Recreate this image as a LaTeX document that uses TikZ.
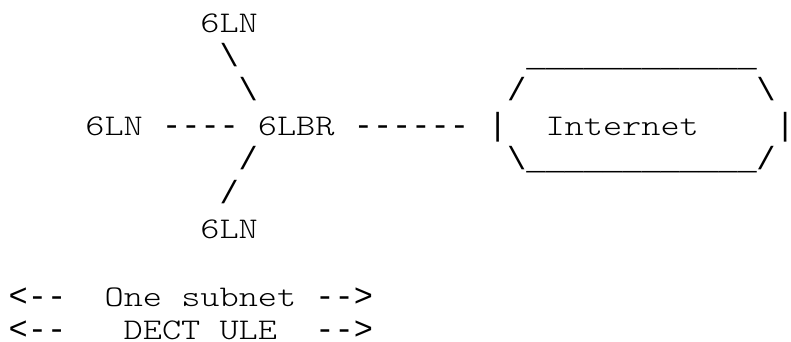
\documentclass[tikz,border=0pt]{standalone}
\usepackage{fontspec}
\setmonofont{Liberation Mono}
\newfontfamily\lmfont{Latin Modern Mono Light}[FakeStretch=1.217]
\usepackage{tikz}

\begin{document}
\begin{tikzpicture}
[every node/.style={inner sep=0pt, outer sep=0pt, anchor=base west},
 word/.style={font=\lmfont\fontsize{30}{34}\selectfont},
 lin/.style={font=\ttfamily\fontsize{32}{34}\selectfont}]
\useasboundingbox (0pt, 0pt) rectangle (791pt, -342pt);
% the nodes
\node (ln1) [word] at (200.4pt, -32.3pt) {6LN};
\node (ln2) [word] at (85.4pt, -135.2pt) {6LN};
\node (ln3) [word] at (200.4pt, -238.0pt) {6LN};
\node (lbr) [word] at (257.9pt, -135.2pt) {6LBR};
\node (inet) [word] at (545.5pt, -135.2pt) {Internet};
% the links
\node (bs1) [lin] at (219.6pt, -66.6pt) {\textbackslash};
\node (bs2) [lin] at (238.7pt, -100.9pt) {\textbackslash};
\node (sl1) [lin] at (238.7pt, -169.5pt) {/};
\node (sl2) [lin] at (219.6pt, -203.8pt) {/};
\node (dl) [lin] at (162.1pt, -135.2pt) {----};
\node (dr) [lin] at (353.8pt, -135.2pt) {------};
% the cloud
\node (top) [lin] at (526.3pt, -66.6pt) {\_\_\_\_\_\_\_\_\_\_\_\_};
\node (tl) [lin] at (507.1pt, -100.9pt) {/};
\node (tr) [lin] at (756.3pt, -100.9pt) {\textbackslash};
\node (bl) [lin] at (488.0pt, -135.2pt) {|};
\node (br) [lin] at (775.5pt, -135.2pt) {|};
\node (dlft) [lin] at (507.1pt, -169.5pt) {\textbackslash};
\node (bot) [lin] at (526.3pt, -169.5pt) {\_\_\_\_\_\_\_\_\_\_\_\_};
\node (drgt) [lin] at (756.3pt, -169.5pt) {/};
% the subnet
\node (a1) [lin] at (8.7pt, -306.0pt) {<--};
\node (t1) [word] at (104.6pt, -306.0pt) {One subnet};
\node (b1) [lin] at (315.4pt, -306.0pt) {-->};
\node (a2) [lin] at (8.7pt, -339.0pt) {<--};
\node (t2) [word] at (123.7pt, -339.0pt) {DECT ULE};
\node (b2) [lin] at (315.4pt, -339.0pt) {-->};
\end{tikzpicture}
\end{document}
